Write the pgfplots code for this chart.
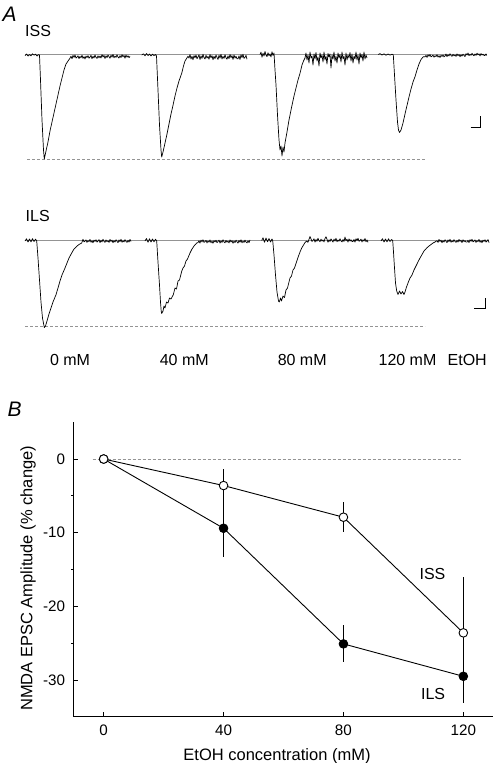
\documentclass[border=0pt]{standalone}
\usepackage{fontspec}
\setmainfont{Liberation Sans}
\usepackage{pgfplots}
\pgfplotsset{compat=1.18}
\definecolor{refgray}{gray}{0.58}
\begin{document}
\begin{tikzpicture}
% ---------------- Panel A: traces in pixel coordinates ----------------
\begin{axis}[at={(0pt,0pt)}, anchor=north west, scale only axis,
  width=494pt, height=763pt, xmin=0, xmax=494, ymin=0, ymax=763,
  y dir=reverse, hide axis, clip=false]
% reference lines
\addplot[refgray, line width=0.6pt] coordinates {(25,54.3)(487,54.3)};
\addplot[refgray, line width=0.6pt] coordinates {(25,240.7)(489,240.7)};
\addplot[refgray, line width=0.6pt, dash pattern=on 3pt off 2pt] coordinates {(27,159.3)(425,159.3)};
\addplot[refgray, line width=0.6pt, dash pattern=on 3pt off 2pt] coordinates {(25,326.7)(425,326.7)};
% ISS traces
\addplot[black, line width=0.7pt, line join=round] coordinates {
(25,55.5)(26.5,54)(28,56)(29.5,54.5)(31,55.8)(32.5,53.8)(34,55.2)(35.5,54.2)(37,56)(38.5,54.6)(39.5,55)
(40.5,80)(42,120)(43.5,150)(44.3,159)(46,151)(48,142)(50,131)(52,122)(54,113)(56,104)(58,95)(60,86)(62,78)(64,70)(66,64)(68,61)
(70,58.2)(71,56.2)(72,58.8)(73,55.4)(74,57.4)(75,55.0)(76,58.0)(77,57.2)(78,55.8)(79,58.6)(80,56.4)(81,57.8)(82,55.2)(83,58.4)(84,56.6)(85,59.0)(86,56.0)(87,57.6)(88,55.6)(89,58.2)(90,57.0)(91,55.4)(92,58.8)(93,56.2)(94,58.0)(95,55.0)(96,57.4)(97,58.4)(98,55.8)(99,57.8)
(100,56.0)(101,58.0)(102,54.6)(103,57.0)(104,55.4)(105,58.4)(106,55.8)(107,57.6)(108,55.0)(109,56.6)(110,58.2)(111,55.2)(112,57.2)(113,54.4)(114,57.8)(115,56.0)(116,57.4)(117,54.8)(118,57.0)(119,58.0)(120,55.6)(121,57.6)(122,54.6)(123,56.8)(124,55.4)(125,58.2)(126,55.0)(127,57.2)(128,55.8)(129,57.6)(130,56.4)};
\addplot[black, line width=0.7pt, line join=round] coordinates {
(141.7,55)(143.5,53.8)(145,55.8)(146.5,53.5)(148,55.5)(149.5,54)(151,56)(152.5,54.2)(154,55.6)(155.5,54.5)(156.5,56)
(158,90)(159.5,125)(161,150)(161.7,157)(163,152)(165,143)(167,134)(169,124)(171,114)(172.7,106.7)(175,96)(177,88)(179,81)(181.7,73.3)(183.5,66)(185,61)(186.7,58.3)
(188,56.2)(189,58.1)(190,54.5)(191,59.0)(192,56.4)(193,59.8)(194,55.6)(195,57.8)(196,55.0)(197,58.7)(198,57.0)(199,54.8)(200,59.5)(201,55.9)(202,58.4)(203,54.2)(204,57.6)(205,59.0)(206,55.3)(207,58.1)(208,56.4)(209,59.2)(210,54.5)(211,57.8)(212,55.6)(213,59.8)(214,56.2)(215,58.7)(216,55.0)(217,57.3)
(218,59.5)(219,55.3)(220,58.1)(221,54.2)(222,59.0)(223,56.4)(224,58.4)(225,54.8)(226,57.8)(227,59.2)(228,55.9)(229,58.7)(230,54.5)(231,57.6)(232,55.6)(233,59.5)(234,55.0)(235,58.1)(236,56.2)(237,58.7)(238,58.7)(239,55.9)(240,59.5)(241,54.8)(242,57.6)(243,54.2)(244,58.4)(245,57.3)(246,55.3)(247,59.2)};
\addplot[black, line width=0.7pt, line join=round] coordinates {
(260,54.5)(261,52.1)(262,57.2)(263,53.3)(264,56.0)(265,51.5)(266,55.1)(267,56.6)(268,52.7)(269,55.7)(270,53.9)(271,56.9)(272,51.8)(273,55.4)(274,53.0)
(275,70)(276,85)(277.5,115)(279,140)(280,150)(281,146)(282,156)(283,147)(284,152)(285,143)(287,132)(289,120)(291.7,106.7)(294,96)(296,88)(298,80)(300,73.3)(302,65)(303.5,61)(305,58)
(306,53)(307,60)(308,55)(309,63)(310,52)(311,58)(312,56)(313,65)(314,54)(315,59)(316,52.5)(317,61)(318,57)(319,66)(320,53)(321,58)(322,55)(323,62)(324,52)(325,60)(326,56)(327,64)(328,53.5)(329,57)(330,54)(331,68)(332,55)(333,59)(334,52)(335,61)(336,56)
(337,63)(338,53)(339,58)(340,54.5)(341,62)(342,52)(343,59)(344,56)(345,65)(346,53)(347,60)(348,55)(349,58)(350,52.5)(351,61)(352,54)(353,63)(354,56)(355,59)(356,52)(357,60)(358,55)(359,64)(360,53)(361,58)(362,54.5)(363,61)(364,52)(365,59)(366,55)(367,58)};
\addplot[black, line width=0.7pt, line join=round] coordinates {
(378.3,54.5)(380,53.6)(382,55)(384,53.8)(386,55.2)(388,54)(390,55.1)(392,54.2)(393.3,54.8)
(394.5,75)(396,100)(397.5,122)(398.5,130)(399.5,132.5)(401,130)(403,123)(405,114)(406.7,106.7)(409,97)(411,89)(413,82)(415,76.7)(417,70)(419,64)(421,59.5)(423.3,56.7)
(425,56.9)(426,55.4)(427,57.4)(428,54.8)(429,56.3)(430,54.5)(431,56.8)(432,56.2)(433,55.1)(434,57.2)(435,55.6)(436,56.6)(437,54.7)(438,57.1)(439,55.7)(440,57.5)(441,55.3)(442,56.5)(443,55.0)(444,56.9)(445,56.0)
(446,54.0)(447,56.6)(448,54.6)(449,56.0)(450,53.7)(451,55.5)(452,56.3)(453,54.3)(454,55.8)(455,54.9)(456,56.4)(457,53.9)(458,55.7)(459,54.5)(460,56.7)(461,54.8)(462,56.1)(463,54.2)(464,55.4)(465,56.6)
(466,53.6)(467,55.1)(468,53.0)(469,55.6)(470,54.2)(471,55.3)(472,53.3)(473,55.0)(474,55.7)(475,53.9)(476,55.4)(477,53.2)(478,54.8)(479,53.8)(480,55.9)(481,53.5)(482,55.1)(483,54.1)(484,55.4)(485,55.4)(486,53.9)(486.7,55.5)};
% ILS traces
\addplot[black, line width=0.7pt, line join=round] coordinates {
(25,241)(26.5,238.8)(28,242)(29.5,239)(31,241.8)(32.5,238.6)(34,241.5)(35.5,239.2)(36.7,240.8)
(38,258)(39.5,280)(41,302)(42.5,318)(44.3,327.5)(45.5,326)(47,321)(49,314)(51,308)(53,302)(56,294.7)(58,288)(60,281)(62,275)(65,268)(67,263)(69,258)(71.7,253)(74,249)(77,246)(79,244.5)(81.7,243)
(83,239.2)(84,241.9)(85,241.2)(86,239.9)(87,242.4)(88,240.5)(89,241.7)(90,239.4)(91,242.3)(92,240.6)(93,242.8)(94,240.1)(95,241.5)(96,239.7)(97,242.1)(98,241.0)(99,239.6)(100,242.6)(101,240.3)(102,241.9)(103,239.2)(104,241.4)(105,242.3)(106,239.9)(107,241.7)
(108,240.6)(109,242.4)(110,239.4)(111,241.5)(112,240.1)(113,242.8)(114,240.5)(115,242.1)(116,239.7)(117,241.2)(118,242.6)(119,239.9)(120,241.7)(121,239.2)(122,242.3)(123,240.6)(124,241.9)(125,239.6)(126,241.5)(127,242.4)(128,240.3)(129,242.1)(130,239.4)(131,241.4)};
\addplot[black, line width=0.7pt, line join=round] coordinates {
(145,241)(146.5,238.5)(148,242.3)(149.5,238.8)(151,242)(152.5,239)(154,241.8)(155.5,239.2)(156.7,241)
(158,262)(159.5,285)(160.5,302)(161.2,311)(161.7,313.5)(163,311)(164,306)(165,308)(166.5,302)(168,303)(169.5,298)(171,299)(173.3,294.7)(175,288)(176.5,289)(178,281)(179.5,280)(181.7,271.3)(183,268)(184.5,266)(186,261)(187.5,259)(190,253)(192,249)(194,246)(196.7,243)
(198,242.6)(199,240.8)(200,243.1)(201,240.1)(202,241.9)(203,239.7)(204,242.4)(205,241.7)(206,240.4)(207,242.9)(208,241.0)(209,242.2)(210,239.9)(211,242.8)(212,241.1)(213,243.3)(214,240.6)(215,242.0)(216,240.2)(217,242.6)(218,241.5)(219,240.1)(220,243.1)(221,240.8)(222,242.4)(223,239.7)(224,241.9)
(225,242.8)(226,240.4)(227,242.2)(228,241.1)(229,242.9)(230,239.9)(231,242.0)(232,240.6)(233,243.3)(234,241.0)(235,242.6)(236,240.2)(237,241.7)(238,243.1)(239,240.4)(240,242.2)(241,239.7)(242,242.8)(243,241.1)(244,242.4)(245,240.1)(246,242.0)(247,242.9)(248,240.8)(249,242.6)(250,239.9)};
\addplot[black, line width=0.7pt, line join=round] coordinates {
(261.7,240.5)(263,237.8)(264.5,242.2)(266,238)(267.5,241.8)(269,238.5)(270.5,242)(272,239)(272.7,240.5)
(274,255)(275.5,275)(277,292)(278.5,301)(279.3,302)(280.5,298)(281.5,301)(283,296)(284.5,297.5)(286,290)(287.5,288)(290,278)(291.5,276)(293,270)(294.5,268)(296.7,261.3)(298.5,256)(300,252)(301.7,248)(303.5,245)(305,242.5)(306.7,241)
(308,242.3)(309,239.3)(310,236.5)(311,238.9)(312,241.5)(313,240.3)(314,238.7)(315,242.1)(316,239.5)(317,241.3)(318,238.3)(319,240.7)(320,241.7)(321,239.1)(322,241.1)(323,239.9)(324,241.9)(325,238.5)(326,236.8)(327,239.3)(328,242.3)(329,239.7)(330,241.5)(331,238.9)(332,240.5)(333,242.1)(334,239.1)(335,241.1)(336,238.3)(337,241.7)(338,239.9)
(339,241.3)(340,238.7)(341,240.9)(342,241.9)(343,239.5)(344,241.5)(345,237.0)(346,240.7)(347,239.3)(348,242.1)(349,238.9)(350,241.1)(351,239.7)(352,241.5)(353,241.5)(354,239.5)(355,242.1)(356,238.7)(357,240.7)(358,238.3)(359,241.3)(360,240.5)(361,239.1)(362,241.9)(363,239.7)(364,241.1)(365,238.5)(366,241.7)(367,239.9)(368,242.3)};
\addplot[black, line width=0.7pt, line join=round] coordinates {
(381,241)(382.5,238.7)(384,242)(385.5,239)(387,241.8)(388.5,238.8)(390,241.5)(391.5,239.5)(392.7,240.5)
(393.5,252)(394.5,268)(395.5,283)(396.7,291)(398,294.5)(399.5,291)(401,294)(402.5,291.5)(404,294.5)(405,292)(406.5,287)(408,283)(410,278)(412,275)(414,270)(416,266)(418.3,261.3)(420,258)(422,254.5)(424,251)(426.7,248)(429,246)(431,244.5)(433,243)(435,242)
(437,240.6)(438,242.4)(439,239.4)(440,241.5)(441,240.1)(442,242.8)(443,240.5)(444,242.1)(445,239.7)(446,241.2)(447,242.6)(448,239.9)(449,241.7)(450,239.2)(451,242.3)(452,240.6)(453,241.9)(454,239.6)(455,241.5)(456,242.4)(457,240.3)(458,242.1)(459,239.4)(460,241.4)(461,240.1)(462,242.6)
(463,239.7)(464,241.7)(465,240.5)(466,242.1)(467,242.1)(468,240.3)(469,242.6)(470,239.6)(471,241.4)(472,239.2)(473,241.9)(474,241.2)(475,239.9)(476,242.4)(477,240.5)(478,241.7)(479,239.4)(480,242.3)(481,240.6)(482,242.8)(483,240.1)(484,241.5)(485,239.7)(486,242.1)(487,241.0)(488,239.6)(489,242.6)};
% scale bars
\addplot[black, line width=1pt] coordinates {(470.7,127.3)(480.7,127.3)(480.7,116)};
\addplot[black, line width=1pt] coordinates {(474,308.7)(485.7,308.7)(485.7,298)};
% texts
\node[anchor=base west, inner sep=0pt, font=\fontsize{21}{24}\selectfont\itshape] at (axis cs:2.5,21.7) {A};
\node[anchor=base west, inner sep=0pt, font=\fontsize{16}{19}\selectfont] at (axis cs:25,36.7) {ISS};
\node[anchor=base west, inner sep=0pt, font=\fontsize{16}{19}\selectfont] at (axis cs:25.5,221.7) {ILS};
\node[anchor=base, inner sep=0pt, font=\fontsize{16}{19}\selectfont] at (axis cs:70,365.7) {0 mM};
\node[anchor=base, inner sep=0pt, font=\fontsize{16}{19}\selectfont] at (axis cs:184.3,365.7) {40 mM};
\node[anchor=base, inner sep=0pt, font=\fontsize{16}{19}\selectfont] at (axis cs:302.2,365.7) {80 mM};
\node[anchor=base, inner sep=0pt, font=\fontsize{16}{19}\selectfont] at (axis cs:407.5,365.7) {120 mM};
\node[anchor=base, inner sep=0pt, font=\fontsize{16}{19}\selectfont] at (axis cs:467.2,365.7) {EtOH};
\node[anchor=base west, inner sep=0pt, font=\fontsize{21}{24}\selectfont\itshape] at (axis cs:7.5,416.7) {B};
\end{axis}
% ---------------- Panel B ----------------
\begin{axis}[at={(73.7pt,-716.8pt)}, anchor=south west, scale only axis,
  width=419.6pt, height=294.6pt,
  xmin=-10, xmax=130, ymin=-35, ymax=5,
  axis x line*=bottom, axis y line*=left,
  axis line style={-, line width=0.9pt, black},
  tick align=inside, major tick length=4.5pt,
  tick style={line width=0.9pt, black},
  xtick={0,40,80,120}, ytick={-30,-20,-10,0},
  extra y ticks={-25,-15,-5}, extra y tick labels={},
  extra y tick style={tick align=outside, major tick length=2.5pt},
  /pgf/number format/assume math mode=true,
  tick label style={font=\fontsize{15.2}{18}\selectfont},
  yticklabel style={inner sep=0pt, xshift=-8.5pt},
  xticklabel style={inner sep=0pt, yshift=-8.2pt},
  label style={font=\fontsize{16.5}{19}\selectfont},
  xlabel={EtOH concentration (mM)},
  ylabel={NMDA EPSC Amplitude (\% change)},
  xlabel style={at={(axis description cs:0.4845,-0.1466)}, anchor=base, inner sep=0pt},
  ylabel style={at={(axis description cs:-0.0982,0.470)}, anchor=base, inner sep=0pt},
  clip=false]
\addplot[refgray, line width=0.6pt, dash pattern=on 3pt off 2pt] coordinates {(-3.7,0)(119.3,0)};
% ILS (filled)
\addplot[black, line width=0.9pt, mark=*, mark size=4.3pt,
  mark options={fill=black, draw=black, line width=0.9pt},
  error bars/.cd, y dir=both, y explicit, error mark=none,
  error bar style={line width=0.9pt, black}]
  coordinates {(0,0) +- (0,0) (40,-9.4) +- (0,3.9) (80,-25.1) +- (0,2.5) (120,-29.5) +- (0,3.6)};
% ISS (open)
\addplot[black, line width=0.9pt, mark=*, mark size=4.3pt,
  mark options={fill=white, draw=black, line width=0.9pt},
  error bars/.cd, y dir=both, y explicit, error mark=none,
  error bar style={line width=0.9pt, black}]
  coordinates {(0,0) +- (0,0) (40,-3.6) +- (0,2.3) (80,-7.9) +- (0,2.0) (120,-23.6) +- (0,7.6)};
\node[anchor=base, inner sep=0pt, font=\fontsize{16}{19}\selectfont] at (axis cs:109.7,-16.3) {ISS};
\node[anchor=base, inner sep=0pt, font=\fontsize{16}{19}\selectfont] at (axis cs:109.9,-32.6) {ILS};
\end{axis}
\pgfresetboundingbox
\useasboundingbox (0,0) rectangle (494pt,-763pt);
\end{tikzpicture}
\end{document}
